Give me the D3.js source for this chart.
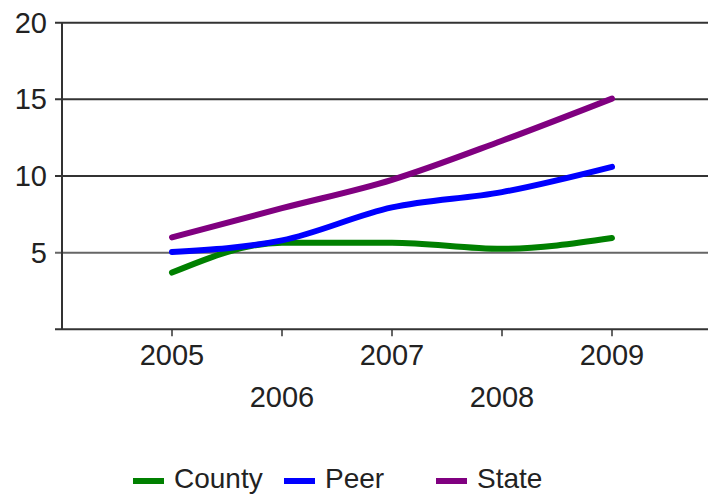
<!DOCTYPE html>
<html>
<head>
<meta charset="utf-8">
<script src="https://cdn.jsdelivr.net/npm/d3@7"></script>
<style>
  body { margin: 0; background: #fff; }
  text { font-family: "Liberation Sans", Arial, sans-serif; fill: #222; }
</style>
</head>
<body>
<div id="chart"></div>
<script>
// data
var years = ["2005", "2006", "2007", "2008", "2009"];
var county = [3.7, 5.65, 5.65, 5.25, 5.95];
var peer = [5.05, 5.8, 7.95, 8.95, 10.6];
var state = [6.0, 7.9, 9.75, 12.3, 15.05];
var yTicks = [5, 10, 15, 20];

var series = [
  {name: "County", values: county, color: "#008000"},
  {name: "Peer", values: peer, color: "#0000ff"},
  {name: "State", values: state, color: "#800080"}
];

var width = 708, height = 494;
var plotLeft = 62, plotTop = 22.7, plotBottom = 329.3;

var svg = d3.select("#chart")
  .append("svg")
    .attr("width", width)
    .attr("height", height);

// x: one step of padding on each side, right edge runs off the canvas
var x = d3.scalePoint()
    .domain(years)
    .range([plotLeft, plotLeft + 660])
    .padding(1);

var y = d3.scaleLinear()
    .domain([0, 20])
    .range([plotBottom, plotTop]);

// grid lines
svg.selectAll(".grid")
  .data(yTicks)
  .enter()
  .append("line")
    .attr("x1", plotLeft - 7)
    .attr("x2", width)
    .attr("y1", function(d) { return y(d); })
    .attr("y2", function(d) { return y(d); })
    .attr("stroke", function(d) { return d == 5 ? "#666" : "#333"; })
    .attr("stroke-width", 2);

// y labels
svg.selectAll(".ylab")
  .data(yTicks)
  .enter()
  .append("text")
    .attr("x", 47)
    .attr("y", function(d) { return y(d) + 10; })
    .attr("text-anchor", "end")
    .style("font-size", "29px")
    .text(function(d) { return d; });

// axes
svg.append("line")
    .attr("x1", plotLeft).attr("x2", plotLeft)
    .attr("y1", y(20)).attr("y2", plotBottom)
    .attr("stroke", "#333").attr("stroke-width", 2);
svg.append("line")
    .attr("x1", plotLeft - 7).attr("x2", width)
    .attr("y1", plotBottom).attr("y2", plotBottom)
    .attr("stroke", "#333").attr("stroke-width", 2);

// x ticks
svg.selectAll(".xtick")
  .data(years)
  .enter()
  .append("line")
    .attr("x1", function(d) { return x(d); })
    .attr("x2", function(d) { return x(d); })
    .attr("y1", plotBottom)
    .attr("y2", plotBottom + 7)
    .attr("stroke", "#333")
    .attr("stroke-width", 1.5);

// x labels, staggered on two rows
svg.selectAll(".xlab")
  .data(years)
  .enter()
  .append("text")
    .attr("x", function(d) { return x(d); })
    .attr("y", function(d, i) { return i % 2 == 0 ? 365 : 407; })
    .attr("text-anchor", "middle")
    .style("font-size", "29px")
    .text(function(d) { return d; });

// lines
var line = d3.line()
    .x(function(d, i) { return x(years[i]); })
    .y(function(d) { return y(d); })
    .curve(d3.curveMonotoneX);

svg.selectAll(".series")
  .data(series)
  .enter()
  .append("path")
    .attr("d", function(d) { return line(d.values); })
    .attr("fill", "none")
    .attr("stroke", function(d) { return d.color; })
    .attr("stroke-width", 6)
    .attr("stroke-linecap", "round")
    .attr("stroke-linejoin", "round");

// legend
var legendX = [133, 284, 436];
var legend = svg.selectAll(".legend")
  .data(series)
  .enter()
  .append("g")
    .attr("transform", function(d, i) { return "translate(" + legendX[i] + ",481)"; });

legend.append("line")
    .attr("x1", 0).attr("x2", 31)
    .attr("y1", 0).attr("y2", 0)
    .attr("stroke", function(d) { return d.color; })
    .attr("stroke-width", 6);

legend.append("text")
    .attr("x", 41)
    .attr("y", 7)
    .style("font-size", "28px")
    .text(function(d) { return d.name; });
</script>
</body>
</html>
